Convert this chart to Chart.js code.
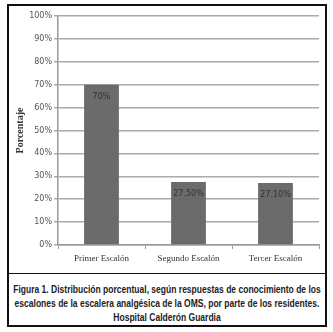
<!DOCTYPE html>
<html>
<head>
<meta charset="utf-8">
<script src="https://cdn.jsdelivr.net/npm/chart.js@4"></script>
<style>
  body { margin: 0; background: #fff; }
  #box {
    position: absolute; left: 7px; top: 4px; width: 316px; height: 319px;
    border: 2px solid #111;
  }
  #plot { position: absolute; left: 0; top: 0; width: 316px; height: 267px; border-bottom: 1.5px solid #111; }
  #caption {
    position: absolute; left: 0; top: 276px; width: 316px;
    font-family: "Liberation Sans", sans-serif;
    font-weight: bold; font-size: 11px; color: #222;
  }
  #caption div { position: relative; height: 14px; }
  #caption span { position: absolute; left: 50%; top: 0; white-space: nowrap; line-height: 14px; }
</style>
</head>
<body>
<div id="box">
  <div id="plot"><canvas id="chart"></canvas></div>
  <div id="caption">
    <div><span>Figura 1. Distribución porcentual, según respuestas de conocimiento de los</span></div>
    <div><span id="widest">escalones de la escalera analgésica de la OMS, por parte de los residentes.</span></div>
    <div><span>Hospital Calderón Guardia</span></div>
  </div>
</div>
<script>
const categories = ['Primer Escalón', 'Segundo Escalón', 'Tercer Escalón'];
const values = [70, 27.5, 27.1];
const valueLabels = ['70%', '27.50%', '27.10%'];
const yTicks = [0, 10, 20, 30, 40, 50, 60, 70, 80, 90, 100];

// squeeze caption to the narrow width of the original typeface
const k = 305 / document.getElementById('widest').offsetWidth;
document.querySelectorAll('#caption span').forEach(s => {
  s.style.transform = 'translateX(-50%) scaleX(' + k + ')';
});

const ctx = document.getElementById('chart').getContext('2d');
ctx.canvas.width = 316;
ctx.canvas.height = 267;

// labels written inside the top of each bar
const insideLabels = {
  id: 'insideLabels',
  afterDatasetsDraw(chart) {
    const c = chart.ctx;
    const meta = chart.getDatasetMeta(0);
    c.save();
    c.font = '8px "DejaVu Sans"';
    c.fillStyle = '#333';
    c.textAlign = 'center';
    c.textBaseline = 'middle';
    meta.data.forEach((bar, i) => {
      c.fillText(valueLabels[i], bar.x, bar.y + 12);
    });
    c.restore();
  }
};

const chart = new Chart(ctx, {
  type: 'bar',
  data: {
    labels: categories,
    datasets: [{
      label: '',
      data: values,
      backgroundColor: '#6b6b6b',
      borderWidth: 0,
      barPercentage: 0.4,
      categoryPercentage: 1
    }]
  },
  options: {
    responsive: false,
    animation: false,
    layout: { padding: { left: 0, right: 6, top: 10, bottom: 0 } },
    scales: {
      x: {
        grid: { offset: true, drawOnChartArea: false, color: '#999', tickLength: 4 },
        border: { color: '#999', width: 1.5 },
        ticks: { color: '#333', font: { family: '"Liberation Serif"', size: 9 }, padding: 4 },
        afterFit(scale) { scale.height = 28; }
      },
      y: {
        min: 0,
        max: 100,
        afterBuildTicks(scale) { scale.ticks = yTicks.map(v => ({ value: v })); },
        grid: { color: '#aaa', lineWidth: 1.5, tickLength: 4 },
        border: { color: '#999', width: 1.5 },
        ticks: {
          color: '#555',
          font: { family: '"DejaVu Sans"', size: 8 },
          padding: 2,
          callback: v => v + '%'
        },
        title: {
          display: true,
          text: 'Porcentaje',
          color: '#333',
          font: { family: '"Liberation Serif"', size: 10, weight: 'bold' },
          padding: { top: 5, bottom: 4 }
        },
        afterFit(scale) { scale.width = 49; }
      }
    },
    plugins: {
      legend: { display: false },
      tooltip: { enabled: false }
    }
  },
  plugins: [insideLabels]
});
</script>
</body>
</html>
